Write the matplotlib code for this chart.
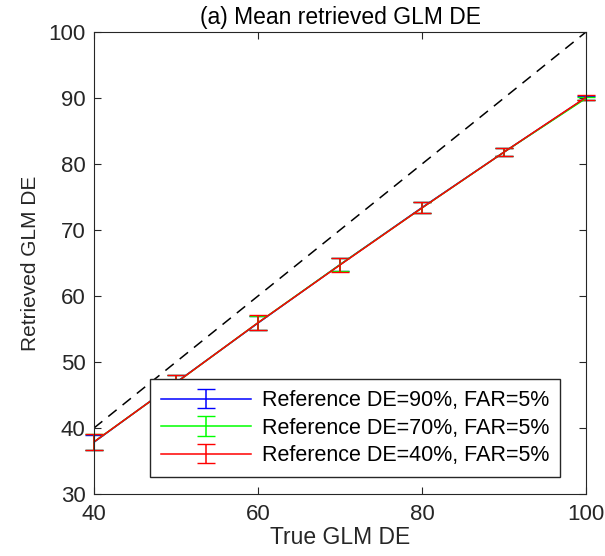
import numpy as np
import matplotlib.pyplot as plt
from matplotlib.container import ErrorbarContainer
from matplotlib.legend_handler import HandlerErrorbar

plt.rcParams['font.family'] = ['Liberation Sans', 'DejaVu Sans']

true_de = [40, 50, 60, 70, 80, 90, 100]

de90_mean = [37.85, 46.9, 55.9, 64.75, 73.4, 81.8, 90.05]
de90_err = [1.15, 1.12, 1.05, 0.98, 0.8, 0.55, 0.3]
de70_mean = [37.9, 46.85, 55.95, 64.75, 73.35, 81.8, 89.95]
de70_err = [1.18, 1.12, 1.08, 1.02, 0.82, 0.55, 0.25]
de40_mean = [37.9, 46.85, 55.95, 64.7, 73.35, 81.8, 90.1]
de40_err = [1.2, 1.15, 1.1, 1.0, 0.83, 0.56, 0.33]

labels = ['Reference DE=90%, FAR=5%', 'Reference DE=70%, FAR=5%',
          'Reference DE=40%, FAR=5%']
colors = ['#0000ff', '#00ff00', '#ff0000']

fig = plt.figure(figsize=(6.05, 5.56), dpi=100)
ax = fig.add_axes([94/605, 62/556, 492/605, 462/556])

ax.plot([40, 100], [40, 100], 'k--', lw=1.1, dashes=(7, 5))
series = [(de90_mean, de90_err), (de70_mean, de70_err), (de40_mean, de40_err)]
for (m, e), c, lab in zip(series, colors, labels):
    ax.errorbar(true_de, m, yerr=e, color=c, lw=1.1, capsize=6.8,
                elinewidth=1.1, capthick=1.0, label=lab, clip_on=False)

ax.set_xlim(40, 100)
ax.set_ylim(30, 100)
ax.set_xticks([40, 60, 80, 100])
ax.set_yticks(range(30, 101, 10))
ax.tick_params(direction='in', top=True, right=True, labelsize=16, length=5,
               color='#262626', labelcolor='#262626')
ax.tick_params(axis='x', pad=7)
ax.tick_params(axis='y', pad=6)
for s in ax.spines.values():
    s.set_color('#262626')
ax.set_xlabel('True GLM DE', fontsize=16.5, labelpad=1, color='#262626')
ax.set_ylabel('Retrieved GLM DE', fontsize=15, labelpad=6, color='#262626')
ax.set_title('(a) Mean retrieved GLM DE', fontsize=16.5, pad=6)

leg = ax.legend(loc='lower left', bbox_to_anchor=(0.114, 0.037), fontsize=15.5,
                handlelength=4.2, handletextpad=0.5, fancybox=False,
                framealpha=1, edgecolor='#262626', borderpad=0.5,
                labelspacing=0.3, borderaxespad=0,
                handler_map={ErrorbarContainer: HandlerErrorbar(yerr_size=0.45)})
leg.get_frame().set_linewidth(1.0)

fig.savefig('out.png', dpi=100)
